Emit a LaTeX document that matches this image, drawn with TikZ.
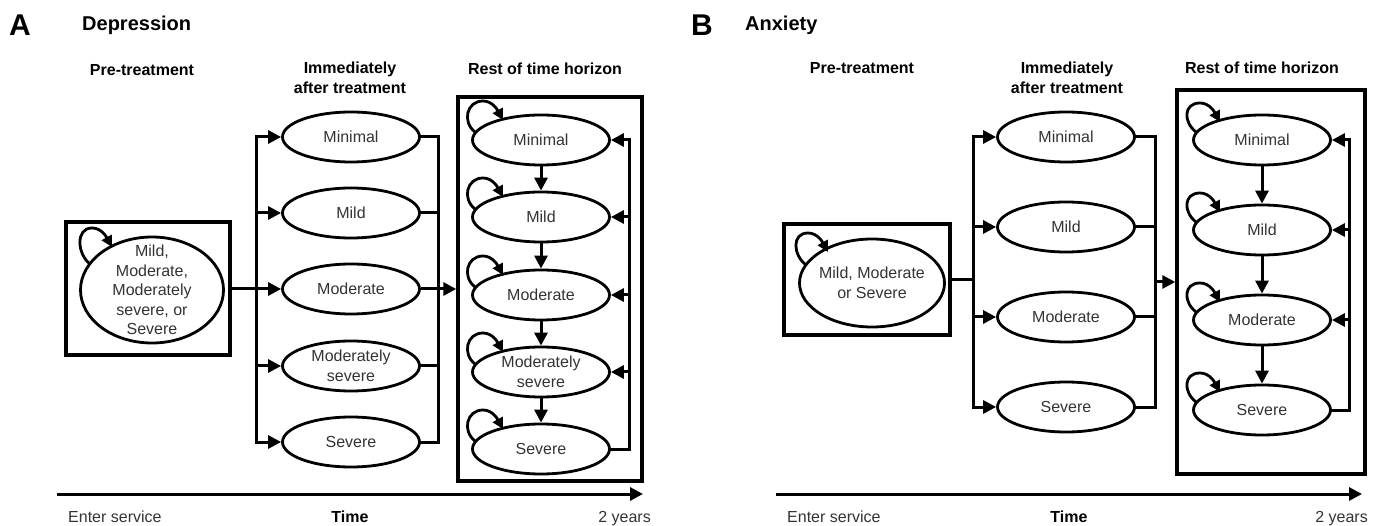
\documentclass[tikz,border=0pt]{standalone}
\usepackage{fontspec}
\setmainfont{Liberation Sans}
\usetikzlibrary{arrows.meta,shapes.geometric}
\definecolor{txt}{gray}{0.2}
\newcommand{\stn}[4][]{\node[st,#1] (#2) at (#3) {}; \node[stt] (#2-t) at (#2.center) {#4};}
% #1 node, #2 start offset, #3 loop circle centre offset
\newcommand{\sloop}[3]{\draw[loopst] ([shift={(#2)}]#1.center) .. controls +(-13,-10) and +(-16.6,0) .. ([shift={(#3)},shift={(0,-17)}]#1.center) .. controls +(10,0) and +(-5,-9) .. ([shift={(#3)},shift={(20,2)}]#1.center);}
\begin{document}
\begin{tikzpicture}[x=1pt,y=-1pt,
 conn/.style={line width=3pt,line cap=rect},
 arr/.style={line width=3pt,-{Triangle[length=13pt,width=13pt]}},
 st/.style={ellipse,draw,line width=2.8pt,minimum width=137pt,minimum height=50pt,inner sep=0pt},
 stt/.style={font=\fontsize{16}{19.5}\selectfont,text=txt,align=center,inner sep=0pt},
 box/.style={draw,line width=3.4pt,rectangle,inner sep=0pt},
 hdr/.style={font=\bfseries\fontsize{16}{20}\selectfont,align=center,inner sep=0pt},
 ttl/.style={font=\bfseries\fontsize{20}{24}\selectfont,anchor=west,inner sep=0pt},
 lett/.style={font=\bfseries\fontsize{30}{32}\selectfont,anchor=west,inner sep=0pt},
 axl/.style={font=\fontsize{16}{19}\selectfont,text=txt,inner sep=0pt,anchor=base},
 loopst/.style={line width=2.8pt,-{Triangle[length=11pt,width=11pt]}}
]
\useasboundingbox (0,0) rectangle (1384,526);

% ---------- Panel A ----------
\node[lett] (aLetter) at (9,25) {A};
\node[ttl] (aTitle) at (82,25) {Depression};
\node[hdr] (aH1) at (142,70) {Pre-treatment};
\node[hdr] (aH2) at (350,78) {Immediately\\after treatment};
\node[hdr] (aH3) at (545,69) {Rest of time horizon};

\node[box,minimum width=164pt,minimum height=133pt] (aPreBox) at (148,288.5) {};
\stn[minimum width=143pt,minimum height=106pt]{aPre}{152,290}{Mild,\\Moderate,\\Moderately\\severe, or\\Severe}

\stn{aI1}{351,137}{Minimal}
\stn{aI2}{351,213}{Mild}
\stn{aI3}{351,289}{Moderate}
\stn{aI4}{351,366}{Moderately\\severe}
\stn{aI5}{351,442}{Severe}

\node[box,minimum width=184pt,minimum height=384pt] (aRest) at (550,289) {};
\stn{aR1}{541,140}{Minimal}
\stn{aR2}{541,217}{Mild}
\stn{aR3}{541,295}{Moderate}
\stn{aR4}{541,372}{Moderately\\severe}
\stn{aR5}{541,449}{Severe}

\coordinate (brA) at (256,289);
\coordinate (colA) at (438,289);
\coordinate (fbA) at (629,289);

\draw[conn] (aPreBox.east) -- (brA |- aPreBox.east);
\draw[conn] (brA |- aI1.west) -- (brA |- aI5.west);
\foreach \n in {aI1,aI2,aI3,aI4,aI5} \draw[arr] (brA |- \n.west) -- (\n.west);
\draw[conn] (colA |- aI1.east) -- (colA |- aI5.east);
\foreach \n in {aI1,aI2,aI4,aI5} \draw[conn] (\n.east) -- (colA |- \n.east);
\draw[arr] (aI3.east) -- (aRest.west |- aI3.east);

\draw[arr] (aR1.south) -- (aR2.north);
\draw[arr] (aR2.south) -- (aR3.north);
\draw[arr] (aR3.south) -- (aR4.north);
\draw[arr] (aR4.south) -- (aR5.north);
\draw[conn] (aR5.east) -- (fbA |- aR5.east) -- (fbA |- aR1.east);
\foreach \n in {aR1,aR2,aR3,aR4} \draw[arr] (fbA |- \n.east) -- (\n.east);

\sloop{aPre}{-62,-26}{-60,-45}
\foreach \n in {aR1,aR2,aR3,aR4,aR5} {\sloop{\n}{-66,-8}{-58,-22}}

\coordinate (axA0) at (57,494);
\coordinate (axA1) at (643,494);
\draw[arr] (axA0) -- (axA1);
\node[axl,anchor=base west] (aEnter) at (68,522) {Enter service};
\node[axl,font=\bfseries\fontsize{16}{19}\selectfont,text=black] (aTime) at (350,522) {Time};
\node[axl,anchor=base east] (a2y) at (651,522) {2 years};

% ---------- Panel B ----------
\node[lett] (bLetter) at (691,25) {B};
\node[ttl] (bTitle) at (745,25) {Anxiety};
\node[hdr] (bH1) at (862,68) {Pre-treatment};
\node[hdr] (bH2) at (1067,78) {Immediately\\after treatment};
\node[hdr] (bH3) at (1262,68) {Rest of time horizon};

\node[box,minimum width=166pt,minimum height=111pt] (bPreBox) at (867,279.5) {};
\stn[minimum width=145pt,minimum height=88pt]{bPre}{872,283}{Mild, Moderate\\or Severe}

\stn{bI1}{1066,137}{Minimal}
\stn{bI2}{1066,227}{Mild}
\stn{bI3}{1066,317}{Moderate}
\stn{bI4}{1066,407}{Severe}

\node[box,minimum width=188pt,minimum height=384pt] (bRest) at (1271,282) {};
\stn{bR1}{1262,140}{Minimal}
\stn{bR2}{1262,230}{Mild}
\stn{bR3}{1262,320}{Moderate}
\stn{bR4}{1262,410}{Severe}

\coordinate (brB) at (973,280);
\coordinate (colB) at (1155,282);
\coordinate (fbB) at (1349,282);

\draw[conn] (bPreBox.east) -- (brB |- bPreBox.east);
\draw[conn] (brB |- bI1.west) -- (brB |- bI4.west);
\foreach \n in {bI1,bI2,bI3,bI4} \draw[arr] (brB |- \n.west) -- (\n.west);
\draw[conn] (colB |- bI1.east) -- (colB |- bI4.east);
\foreach \n in {bI1,bI2,bI3,bI4} \draw[conn] (\n.east) -- (colB |- \n.east);
\draw[arr] (colB) -- (bRest.west |- colB);

\draw[arr] (bR1.south) -- (bR2.north);
\draw[arr] (bR2.south) -- (bR3.north);
\draw[arr] (bR3.south) -- (bR4.north);
\draw[conn] (bR4.east) -- (fbB |- bR4.east) -- (fbB |- bR1.east);
\foreach \n in {bR1,bR2,bR3} \draw[arr] (fbB |- \n.east) -- (\n.east);

\sloop{bPre}{-66,-18}{-64,-33}
\foreach \n in {bR1,bR2,bR3,bR4} {\sloop{\n}{-66,-8}{-62,-20}}

\coordinate (axB0) at (776,494);
\coordinate (axB1) at (1362,494);
\draw[arr] (axB0) -- (axB1);
\node[axl,anchor=base west] (bEnter) at (787,522) {Enter service};
\node[axl,font=\bfseries\fontsize{16}{19}\selectfont,text=black] (bTime) at (1069,522) {Time};
\node[axl,anchor=base east] (b2y) at (1368,522) {2 years};
\end{tikzpicture}
\end{document}
